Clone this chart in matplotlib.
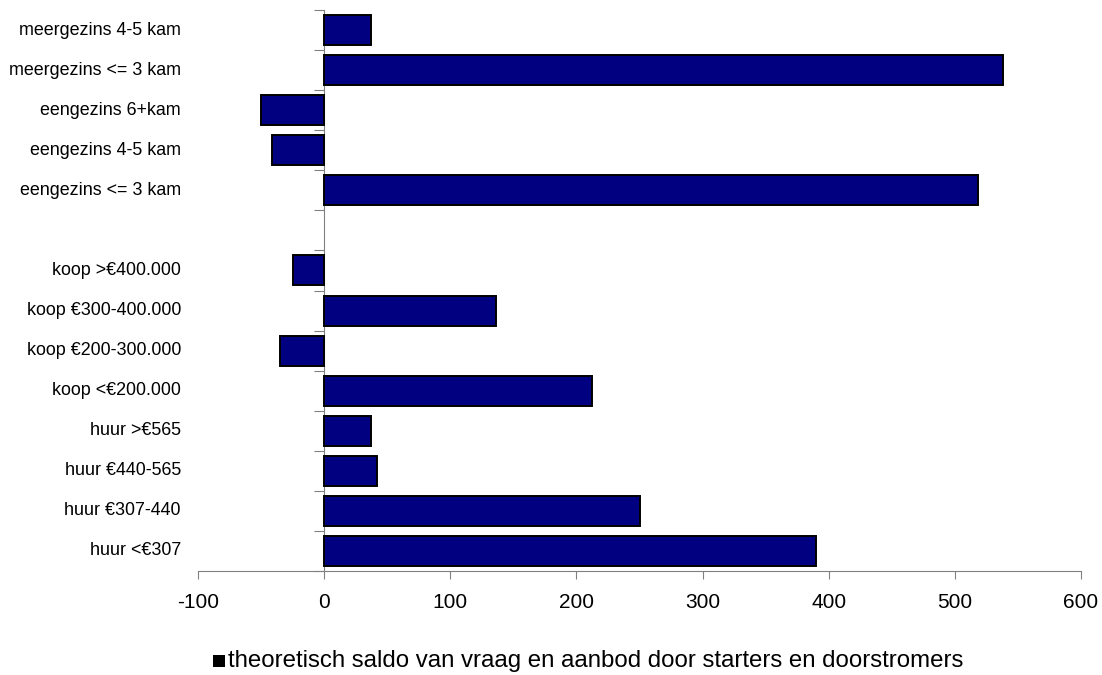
import matplotlib
matplotlib.use("Agg")
import matplotlib.pyplot as plt
from matplotlib.patches import Rectangle
from matplotlib.transforms import blended_transform_factory

plt.rcParams['font.family'] = ['Liberation Sans', 'DejaVu Sans']

# Categories from top to bottom; None marks the empty separator row
categories = [
    "meergezins 4-5 kam",
    "meergezins <= 3 kam",
    "eengezins 6+kam",
    "eengezins 4-5 kam",
    "eengezins <= 3 kam",
    None,
    "koop >€400.000",
    "koop €300-400.000",
    "koop €200-300.000",
    "koop <€200.000",
    "huur >€565",
    "huur €440-565",
    "huur €307-440",
    "huur <€307",
]
values = [37, 538, -50, -41, 518, None, -25, 136, -35, 212, 37, 42, 250, 390]
x_ticks = [-100, 0, 100, 200, 300, 400, 500, 600]
legend_label = "theoretisch saldo van vraag en aanbod door starters en doorstromers"

fig = plt.figure(figsize=(11.02, 6.75), dpi=100)
ax = fig.add_axes([198 / 1102, 1 - 571 / 675, (1081 - 198) / 1102, (571 - 10) / 675])

n = len(categories)
ypos = list(range(n - 1, -1, -1))
for y, v in zip(ypos, values):
    if v is None:
        continue
    ax.barh(y, v, height=0.75, color="#000080", edgecolor="black", linewidth=1.4, zorder=3)

ax.set_xlim(-100, 600)
ax.set_ylim(-0.5, n - 0.5)
ax.set_xticks(x_ticks)
ax.set_xticklabels([str(t) for t in x_ticks], fontsize=15)

axis_grey = "#808080"
for s in ("top", "right"):
    ax.spines[s].set_visible(False)
ax.spines["left"].set_position(("data", 0))
ax.spines["left"].set_color(axis_grey)
ax.spines["bottom"].set_color(axis_grey)
ax.tick_params(axis="x", direction="out", length=6, color=axis_grey, pad=10)

# y tick marks at row boundaries, labels placed left of the plot area
ax.set_yticks([i - 0.5 for i in range(n + 1)])
ax.set_yticklabels([])
ax.tick_params(axis="y", direction="out", length=7, color=axis_grey)

trans = blended_transform_factory(ax.transAxes, ax.transData)
for y, c in zip(ypos, categories):
    if c is None:
        continue
    ax.text(-17 / 883, y, c, transform=trans, ha="right", va="center", fontsize=12.9)

# Legend row below the axis
fig.patches.append(Rectangle((213 / 1102, 1 - 667 / 675), 12 / 1102, 12 / 675,
                             transform=fig.transFigure, facecolor="black", edgecolor="none"))
fig.text(228 / 1102, 1 - 661 / 675, legend_label, ha="left", va="center", fontsize=17.3)

fig.savefig("out.png", dpi=100, facecolor="white")
